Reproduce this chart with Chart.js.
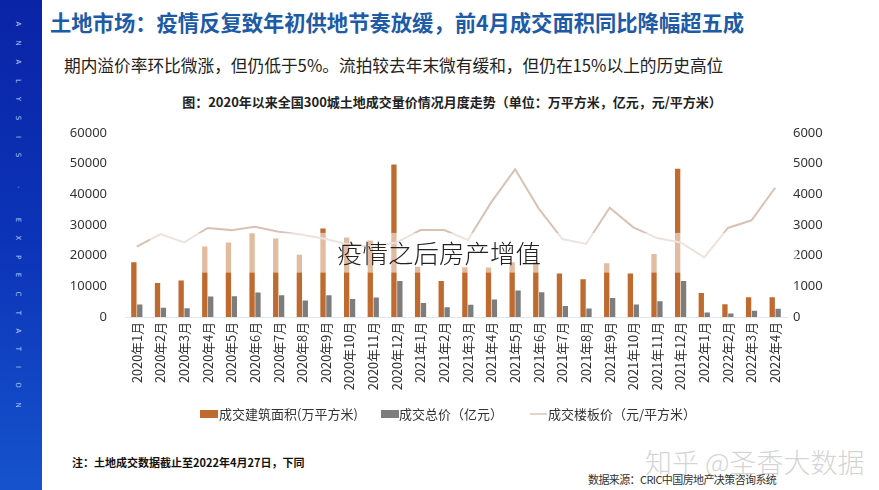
<!DOCTYPE html>
<html>
<head>
<meta charset="utf-8">
<script src="https://cdn.jsdelivr.net/npm/chart.js@4.4.1/dist/chart.umd.min.js"></script>
<style>
  html,body{margin:0;padding:0;background:#fff;}
  body{width:879px;height:490px;position:relative;overflow:hidden;font-family:"Noto Sans CJK SC","Noto Sans",sans-serif;}
  #side{position:absolute;left:0;top:0;width:42px;height:490px;background:linear-gradient(to bottom,#0a24a6 0%,#0c34b8 50%,#1553cc 100%);}
  .lt{position:absolute;left:13px;width:10px;text-align:center;color:#b9c8f5;font-family:"DejaVu Sans",sans-serif;font-size:7px;transform:rotate(90deg);line-height:10px;}
  #title{position:absolute;left:50px;top:6px;font-size:21.3px;font-weight:700;color:#1d5ba6;white-space:nowrap;}
  #sub{position:absolute;left:64px;top:53px;font-size:16.7px;color:#222;white-space:nowrap;}
  #cap{position:absolute;left:0;width:904px;text-align:center;top:92px;font-size:13px;font-weight:700;color:#222;white-space:nowrap;}
  #cv{position:absolute;left:50px;top:107px;}
  #wm{position:absolute;left:337px;top:233px;font-size:25.5px;font-weight:300;color:#222;white-space:nowrap;}
  #legend{position:absolute;left:0;top:405px;height:18px;width:879px;}
  .li{position:absolute;top:0;height:18px;line-height:18px;font-size:13px;color:#333;white-space:nowrap;}
  .sw{position:absolute;}
  #note{position:absolute;left:72px;top:454px;font-size:11px;font-weight:700;color:#111;white-space:nowrap;}
  #src{position:absolute;left:588px;top:471px;font-size:11px;color:#333;white-space:nowrap;letter-spacing:-0.6px;}
  #zh{position:absolute;left:645px;top:442px;font-size:27px;color:rgba(175,175,175,0.55);white-space:nowrap;font-weight:300;}
</style>
</head>
<body>
<div id="side"></div>
<div id="title">土地市场：疫情反复致年初供地节奏放缓，前4月成交面积同比降幅超五成</div>
<div id="sub">期内溢价率环比微涨，但仍低于5%。流拍较去年末微有缓和，但仍在15%以上的历史高位</div>
<div id="cap">图：2020年以来全国300城土地成交量价情况月度走势（单位：万平方米，亿元，元/平方米）</div>
<canvas id="cv" width="790" height="300"></canvas>
<div id="wm">疫情之后房产增值</div>
<div id="legend"></div>
<div id="note">注：土地成交数据截止至2022年4月27日，下同</div>
<div id="zh">知乎 @圣香大数据</div>
<div id="src">数据来源：CRIC中国房地产决策咨询系统</div>
<script>
// ---- data ----
const months = ["2020年1月","2020年2月","2020年3月","2020年4月","2020年5月","2020年6月","2020年7月","2020年8月","2020年9月","2020年10月","2020年11月","2020年12月",
  "2021年1月","2021年2月","2021年3月","2021年4月","2021年5月","2021年6月","2021年7月","2021年8月","2021年9月","2021年10月","2021年11月","2021年12月",
  "2022年1月","2022年2月","2022年3月","2022年4月"];
const areaValues = [17800,11100,11850,23000,24300,27300,25600,20300,28800,25900,24900,49700,
  16400,11750,16200,16100,17800,17800,14200,12300,17500,14200,20500,48300,
  7850,4150,6450,6450];
const totalValues = [4060,3000,2860,6650,6750,7950,7080,5360,7080,5900,6330,11750,
  4600,3190,3960,5680,8600,8050,3600,2800,6200,4060,5130,11750,
  1460,1140,2000,2650];
const priceValues = [2290,2700,2430,2900,2830,2940,2780,2680,2540,2350,2300,2430,
  2830,2830,2510,3750,4810,3530,2540,2380,3560,2920,2570,2430,
  1940,2900,3150,4210];
const leftTicks = [0,10000,20000,30000,40000,50000,60000];
const rightTicks = [0,1000,2000,3000,4000,5000,6000];
const seriesNames = ["成交建筑面积(万平方米)","成交总价（亿元）","成交楼板价（元/平方米）"];
const seriesColors = ["#bf6a2f","#7d7d7d","#d8c2b6"];
const bandRange = [14450, 27400];
const sideLetters = [["A",24],["N",43],["A",62],["L",81],["Y",99],["S",118],["I",137],["S",155],["·",187],["E",220],["X",238],["P",257],["E",275],["C",294],["T",313],["A",331],["T",349],["I",367],["O",385],["N",405]];

sideLetters.forEach(([ch,y])=>{
  const d=document.createElement('div');d.className='lt';d.textContent=ch;d.style.top=(y-5)+'px';
  document.body.appendChild(d);
});

// legend (HTML)
const legendPos = [[200,219],[381,399],[530,548]];
const lg = document.getElementById('legend');
seriesNames.forEach((name,i)=>{
  const sw = document.createElement('div'); sw.className='sw';
  sw.style.left = legendPos[i][0]+'px';
  if(i<2){ sw.style.top='5px'; sw.style.width='18px'; sw.style.height='8px'; sw.style.background=seriesColors[i]; }
  else { sw.style.top='8px'; sw.style.width='17px'; sw.style.height='2px'; sw.style.background='#e6d3c8'; }
  lg.appendChild(sw);
  const t = document.createElement('div'); t.className='li'; t.style.left=legendPos[i][1]+'px'; t.textContent=name;
  lg.appendChild(t);
});

const bandPlugin = {
  id:'band',
  afterDatasetsDraw(chart){
    const {ctx, chartArea, scales} = chart;
    const y0 = scales.y.getPixelForValue(bandRange[1]);
    const y1 = scales.y.getPixelForValue(bandRange[0]);
    ctx.save();
    ctx.fillStyle='rgba(255,255,255,0.55)';
    ctx.fillRect(chartArea.left+25, y0, chartArea.right-chartArea.left-15, y1-y0);
    ctx.restore();
  }
};

new Chart(document.getElementById('cv'), {
  data:{
    labels: months,
    datasets:[
      {type:'bar', label:seriesNames[0], data:areaValues, backgroundColor:seriesColors[0], yAxisID:'y', order:1, barPercentage:0.9, categoryPercentage:0.5},
      {type:'bar', label:seriesNames[1], data:totalValues, backgroundColor:seriesColors[1], yAxisID:'y', order:1, barPercentage:0.9, categoryPercentage:0.5},
      {type:'line', label:seriesNames[2], data:priceValues, borderColor:seriesColors[2], backgroundColor:seriesColors[2], borderWidth:2, pointRadius:0, tension:0, yAxisID:'y1', order:0}
    ]
  },
  options:{
    responsive:false, animation:false, devicePixelRatio:1,
    layout:{padding:{top:0,left:0,right:0,bottom:0}},
    plugins:{ tooltip:{enabled:false}, legend:{display:false} },
    scales:{
      x:{grid:{display:false, drawTicks:false}, border:{display:true,color:'#dfe6ee'},
        ticks:{autoSkip:false, minRotation:90, maxRotation:90, padding:5, color:'#333', font:{family:'"Noto Sans CJK SC"', size:12.8}},
        afterFit(s){ s.height = 90; }},
      y:{position:'left', min:0, max:60000, grid:{display:false, drawTicks:false}, border:{display:false},
        afterBuildTicks(s){ s.ticks = leftTicks.map(v=>({value:v})); },
        ticks:{padding:18, color:'#333', font:{family:'"Noto Sans"', size:13}, callback:(v)=>String(v)},
        afterFit(s){ s.width = 75; }},
      y1:{position:'right', min:0, max:6000, grid:{display:false, drawTicks:false}, border:{display:false},
        afterBuildTicks(s){ s.ticks = rightTicks.map(v=>({value:v})); },
        ticks:{padding:6, color:'#333', font:{family:'"Noto Sans"', size:13}, callback:(v)=>String(v)},
        afterFit(s){ s.width = 53; }}
    }
  },
  plugins:[bandPlugin]
});
</script>
</body>
</html>
